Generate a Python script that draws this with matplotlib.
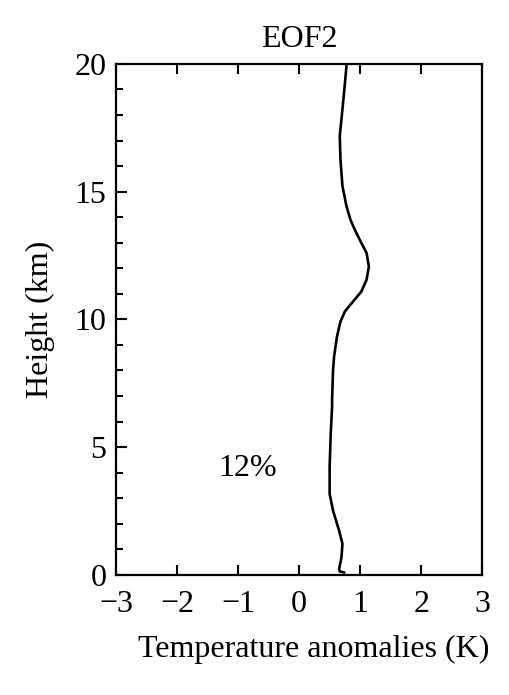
import matplotlib
matplotlib.use("Agg")
import matplotlib.pyplot as plt
from matplotlib.ticker import MultipleLocator

plt.rcParams['font.family'] = ['Liberation Serif', 'DejaVu Serif']

# EOF2 profile: temperature anomaly (K) vs height (km)
anomaly = [0.737, 0.666, 0.655, 0.694, 0.71, 0.655, 0.556, 0.50, 0.50, 0.518, 0.54,
           0.54, 0.556, 0.573, 0.62, 0.677, 0.75, 0.885, 1.02, 1.105, 1.143, 1.105,
           1.02, 0.91, 0.84, 0.776, 0.71, 0.677, 0.666, 0.694, 0.737, 0.776]
height = [0.09, 0.13, 0.22, 0.68, 1.21, 1.73, 2.51, 3.17, 4.22, 5.53, 6.57,
          6.84, 8.02, 8.54, 9.32, 9.91, 10.31, 10.70, 11.09, 11.55, 12.07, 12.6,
          12.99, 13.52, 13.91, 14.43, 15.22, 16.27, 17.18, 17.84, 18.89, 19.93]

title = "EOF2"
xlabel = "Temperature anomalies (K)"
ylabel = "Height (km)"
annotation = "12%"
xticks = [-3, -2, -1, 0, 1, 2, 3]
yticks = [0, 5, 10, 15, 20]

FS = 23
fig = plt.figure(figsize=(5.10, 6.95), dpi=100)
ax = fig.add_axes([0.2275, 0.173, 0.718, 0.735])
ax.plot(anomaly, height, color='black', lw=1.9, solid_joinstyle='round')
ax.set_xlim(-3, 3)
ax.set_ylim(0, 20)
ax.set_xticks(xticks)
ax.set_xticklabels(["\u22123", "\u22122", "\u22121", "0", "1", "2", "3"])
ax.set_yticks(yticks)
ax.yaxis.set_minor_locator(MultipleLocator(1))
ax.tick_params(axis='x', direction='in', top=True, bottom=True, length=7, width=1.5,
               labelsize=FS, pad=11)
ax.tick_params(axis='y', which='major', direction='in', left=True, right=False, length=8,
               width=1.5, labelsize=FS, pad=7)
ax.tick_params(axis='y', which='minor', direction='in', left=True, right=False, length=5,
               width=1.5)
for s in ax.spines.values():
    s.set_linewidth(1.6)
ax.set_title(title, fontsize=FS, pad=12)
ax.set_xlabel(xlabel, fontsize=FS)
ax.xaxis.set_label_coords(0.541, -0.118)
ax.set_ylabel(ylabel, fontsize=FS, labelpad=14)
ax.text(-0.84, 4.15, annotation, fontsize=FS, ha='center', va='center')
fig.savefig("out.png", dpi=100)
